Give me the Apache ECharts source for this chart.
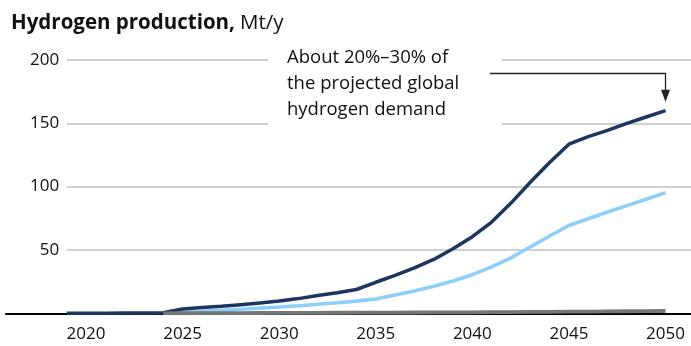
<!DOCTYPE html>
<html>
<head>
<meta charset="utf-8">
<script src="https://cdn.jsdelivr.net/npm/echarts@6/dist/echarts.min.js"></script>
<style>
html,body{margin:0;padding:0;background:#fff;}
#c{width:691px;height:346px;}
</style>
</head>
<body>
<div id="c"></div>
<script>
var years = [2019,2020,2021,2022,2023,2024,2025,2026,2027,2028,2029,2030,2031,2032,2033,2034,2035,2036,2037,2038,2039,2040,2041,2042,2043,2044,2045,2046,2047,2048,2049,2050];
var darkSeries = [0,0,0.1,0.2,0.3,0.4,3.4,4.5,5.5,6.8,8.1,9.7,11.6,14,16.2,18.8,24.5,30,35.8,42.5,51,60.5,72,87,103.5,119,133.5,139.5,144.5,150,155,160];
var lightSeries = [null,null,null,null,null,0,0.7,1.5,2.3,3.2,4.1,5.0,6.0,7.1,8.3,9.6,11.3,14.5,17.6,21.3,25.5,30.5,36.7,43.8,52.5,61,69.3,74.7,80,85,90,95.3];
var graySeries = [null,null,null,null,null,0,0.05,0.1,0.15,0.2,0.25,0.3,0.35,0.4,0.45,0.5,0.55,0.6,0.65,0.7,0.75,0.8,0.9,1.0,1.1,1.2,1.3,1.4,1.5,1.6,1.7,1.8];
var xTickLabels = [2020,2025,2030,2035,2040,2045,2050];
var yTicks = [0,50,100,150,200];
var titleBold = 'Hydrogen production,';
var titleUnit = 'Mt/y';
var noteLines = ['About 20%\u201330% of', 'the projected global', 'hydrogen demand'];

var FONT = '"Open Sans"';
function pairs(arr){ return years.map(function(y,i){ return [y, arr[i]]; }); }

var chart = echarts.init(document.getElementById('c'), null, {renderer:'canvas'});
var gridTop = 60, gridBottom = 32.7, gridLeft = 66.7;
var option = {
  animation: false,
  backgroundColor: '#fff',
  title: {
    left: 6, top: 8,
    text: '{b|' + titleBold + '} {r|' + titleUnit + '}',
    textStyle: {
      rich: {
        b: {fontFamily: FONT, fontWeight: 'bold', fontSize: 20.5, color: '#111'},
        r: {fontFamily: FONT, fontWeight: 'normal', fontSize: 20.5, color: '#111'}
      }
    }
  },
  grid: [
    {left: gridLeft, right: 0, top: gridTop, bottom: gridBottom},
    {left: 6, right: 0, top: gridTop, bottom: gridBottom}
  ],
  xAxis: [
    {
      type: 'value', gridIndex: 0, min: 2019, max: 2051.32,
      axisLine: {show: false}, axisTick: {show: false}, splitLine: {show: false},
      axisLabel: {
        customValues: xTickLabels, margin: 12,
        fontFamily: FONT, fontSize: 17, color: '#111',
        formatter: function(v){ return String(v); }
      }
    },
    {
      type: 'value', gridIndex: 1, min: 0, max: 1,
      axisLine: {show: true, lineStyle: {color: '#000', width: 2}},
      axisTick: {show: false}, axisLabel: {show: false}, splitLine: {show: false}
    }
  ],
  yAxis: [
    {
      type: 'value', gridIndex: 0, min: 0, max: 200, interval: 50,
      axisLine: {show: false}, axisTick: {show: false},
      splitLine: {show: true, lineStyle: {color: '#c0c0c0', width: 1.5}},
      axisLabel: {
        margin: 7.5, fontFamily: FONT, fontSize: 17, color: '#111',
        formatter: function(v){ return v === 0 ? '' : String(v); }
      }
    },
    {
      type: 'value', gridIndex: 1, min: 0, max: 1, show: false
    }
  ],
  series: [
    {
      type: 'line', xAxisIndex: 0, yAxisIndex: 0, z: 5,
      data: pairs(darkSeries), showSymbol: false, symbol: 'none',
      lineStyle: {color: '#1d3661', width: 3.5}, connectNulls: false
    },
    {
      type: 'line', xAxisIndex: 0, yAxisIndex: 0, z: 4,
      data: pairs(lightSeries), showSymbol: false, symbol: 'none',
      lineStyle: {color: '#8ecffa', width: 3.6}
    },
    {
      type: 'line', xAxisIndex: 0, yAxisIndex: 0, z: 6,
      data: pairs(graySeries), showSymbol: false, symbol: 'none',
      lineStyle: {color: '#767676', width: 3.8}
    }
  ]
};
chart.setOption(option);

// annotation anchored to data
var endPt = chart.convertToPixel({xAxisIndex: 0, yAxisIndex: 0}, [2050, 160]);
var ax = endPt[0], tipY = endPt[1] - 9;
var lineY = 73.5;
chart.setOption({
  graphic: [
    {type: 'rect', z: 100, shape: {x: 268, y: 40, width: 234, height: 90}, style: {fill: '#fff'}},
    {type: 'text', z: 101, x: 287, y: 45, style: {
      text: noteLines.join('\n'), fontFamily: FONT, fontSize: 18.5, lineHeight: 26,
      fill: '#111', textVerticalAlign: 'top'
    }},
    {type: 'polyline', z: 101, shape: {points: [[490, lineY], [ax, lineY], [ax, tipY - 8]]},
      style: {stroke: '#222', lineWidth: 1.3, fill: null}},
    {type: 'polygon', z: 101, shape: {points: [[ax - 4.5, tipY - 12], [ax + 4.5, tipY - 12], [ax, tipY]]},
      style: {fill: '#222'}}
  ]
});
</script>
</body>
</html>
